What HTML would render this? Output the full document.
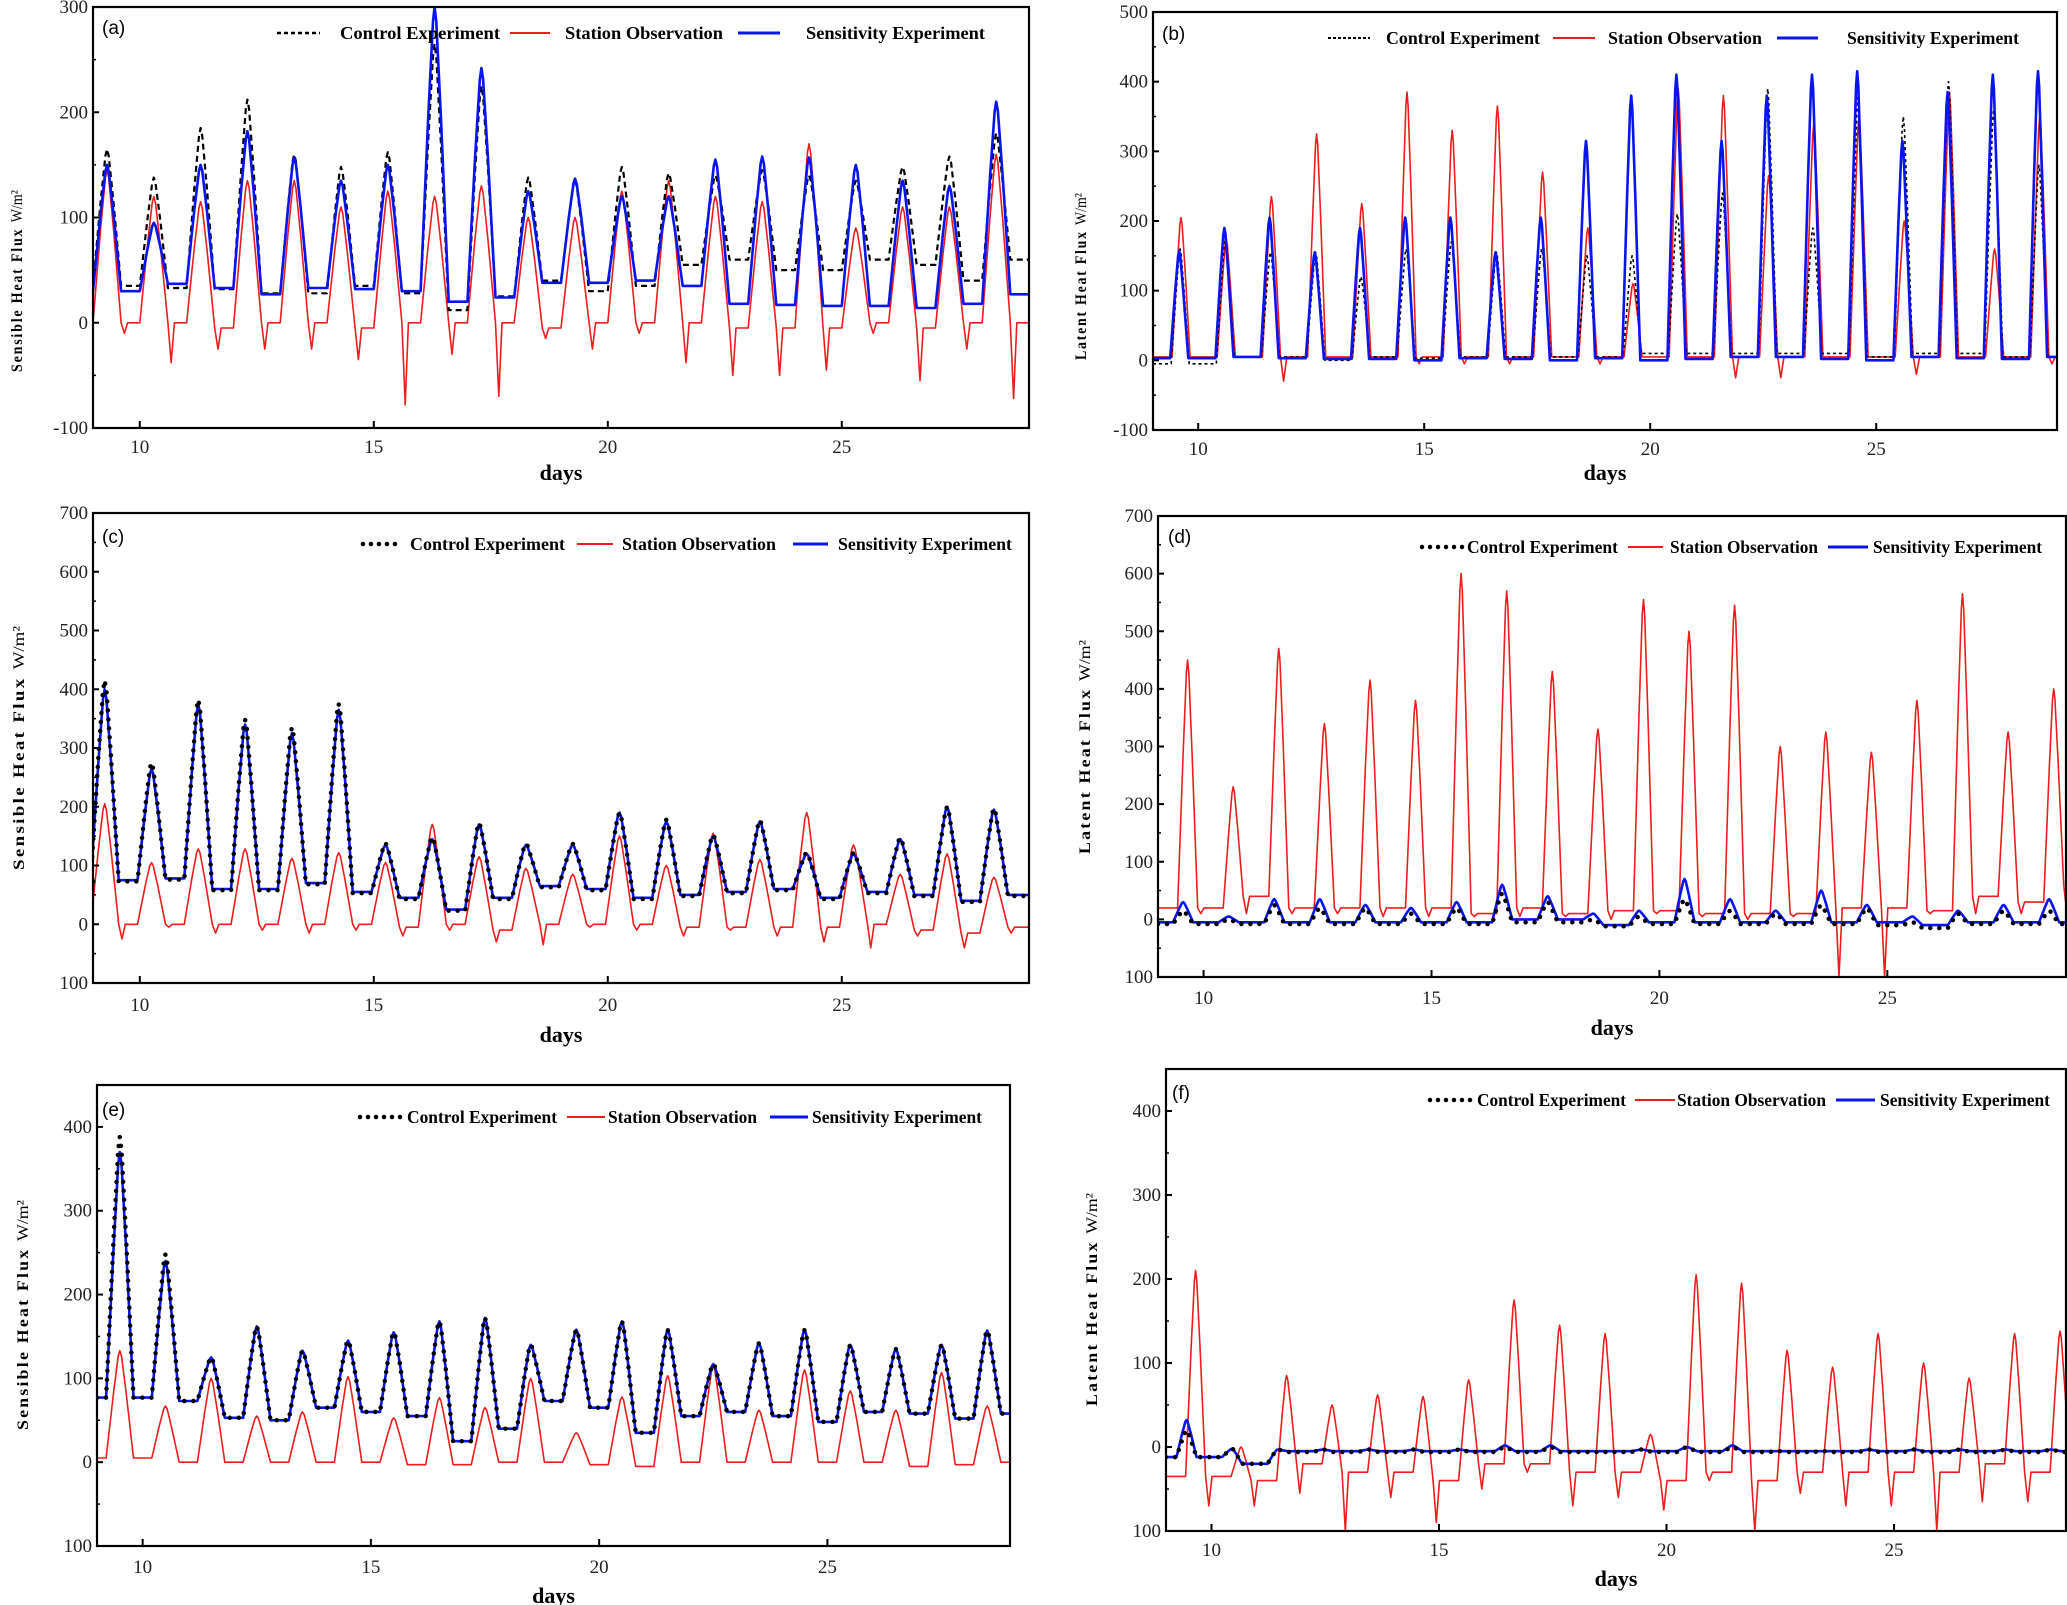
<!DOCTYPE html>
<html><head><meta charset="utf-8"><title>Heat flux comparison</title>
<style>
html,body{margin:0;padding:0;background:#fff;}
svg{display:block;}
text{font-family:"Liberation Serif",serif;}
</style></head>
<body>
<svg id="fig" xmlns="http://www.w3.org/2000/svg" width="2067" height="1605" viewBox="0 0 2067 1605"></svg>
<script>
// ---------- data (20 days, day 9..28) ----------
const days = [9,10,11,12,13,14,15,16,17,18,19,20,21,22,23,24,25,26,27,28];
const xTicks = [10,15,20,25];
const xTickLabels = ['10','15','20','25'];

// panel (a) sensible heat flux
const aCtrlPeak = [165,138,185,212,160,148,162,265,225,138,135,148,142,140,145,140,135,148,158,180];
const aCtrlBase = [35,33,32,28,28,35,28,12,25,40,30,35,55,60,50,50,60,55,40,60];
const aSensPeak = [150,95,150,182,157,135,150,300,242,125,137,120,120,155,158,157,150,135,130,210];
const aSensBase = [30,37,33,27,33,32,30,20,24,38,38,40,35,18,17,16,16,14,18,27];
const aObsPeak = [145,120,115,135,135,110,125,120,130,100,100,125,135,120,115,170,90,110,110,160];
const aObsBase = [0,0,-5,0,0,-5,0,0,0,-5,0,0,0,-5,-5,-5,0,-5,0,0];
const aObsMin = [-10,-38,-25,-25,-25,-35,-78,-30,-70,-15,-25,-10,-38,-50,-50,-45,-10,-55,-25,-72];
// panel (b) latent heat flux
const bSensPeak = [157,190,205,155,190,205,205,155,205,315,380,410,315,380,410,415,315,385,410,415];
const bSensBase = [3,5,3,2,2,0,3,2,0,3,0,2,5,5,2,0,5,3,2,5];
const bCtrlPeak = [160,175,155,155,120,160,170,155,160,150,150,210,240,390,190,380,350,400,360,280];
const bCtrlBase = [-5,5,5,0,5,3,5,5,5,5,10,10,10,10,10,5,10,10,5,5];
const bObsPeak = [205,175,235,325,225,385,330,365,270,190,110,390,380,265,340,350,200,385,160,350];
const bObsBase = [5,5,5,5,5,5,5,5,5,5,5,5,5,5,5,5,5,5,5,5];
const bObsMin = [5,5,-30,5,5,-5,-5,-5,5,-5,5,5,-25,-25,5,5,-20,5,5,-5];
// panel (c)
const cSensPeak = [400,265,375,340,325,365,135,145,170,135,135,190,175,150,175,120,120,145,200,195];
const cCtrlPeak = [415,275,382,348,335,375,138,148,172,137,137,190,178,152,177,122,122,147,200,197];
const cSensBase = [75,78,60,60,70,55,45,25,45,65,60,45,50,55,60,45,55,50,40,50];
const cCtrlBase = [73,76,58,58,68,53,43,23,43,63,58,43,48,53,58,43,53,48,38,48];
const cObsPeak = [205,105,128,128,112,122,105,170,115,95,85,150,100,155,110,190,135,85,120,80];
const cObsBase = [0,0,0,0,0,0,-5,0,-10,0,0,0,-5,-5,-5,-5,0,-10,-15,-5];
const cObsMin = [-25,-5,-15,-10,-15,-10,-20,-10,-30,-35,-5,-10,-20,-10,-20,-30,-40,-20,-40,-15];
// panel (d)
const dObsPeak = [450,230,470,340,415,380,600,570,430,330,555,500,545,300,325,290,380,565,325,400];
const dObsBase = [20,40,20,20,20,20,10,20,10,15,15,10,10,10,20,20,15,40,30,60];
const dObsMin = [10,10,10,10,5,5,5,5,5,0,10,5,0,5,-100,-100,10,10,10,10];
const dSensPeak = [30,5,35,35,25,20,30,60,40,10,15,70,35,15,50,25,5,15,25,35];
const dSensBase = [-5,-5,-5,-5,-5,-5,-5,0,0,-10,-5,-5,-5,-5,-5,-5,-10,-5,-5,-5];
const dCtrlPeak = [15,0,25,20,20,10,20,45,30,0,5,35,15,10,25,20,-5,10,15,15];
const dCtrlBase = [-8,-8,-8,-8,-8,-8,-8,-5,-5,-12,-8,-8,-8,-8,-8,-10,-15,-8,-8,-8];
// panel (e)
const eSensPeak = [370,240,125,162,133,145,155,168,172,140,158,168,158,117,142,158,140,135,140,157];
const eCtrlPeak = [388,248,125,162,133,145,155,168,172,140,158,168,158,117,142,158,140,135,140,157];
const eSensBase = [77,73,53,50,65,60,55,25,40,73,65,35,55,60,55,48,60,58,52,58];
const eObsPeak = [133,67,100,55,60,102,53,77,65,100,35,78,103,115,62,110,85,62,107,67];
const eObsBase = [5,0,0,0,0,0,-3,-3,0,0,-3,-5,0,0,0,0,0,-5,-3,0];
// panel (f)
const fSensPeak = [32,-2,-3,-3,-3,-3,-3,2,2,-5,-3,0,2,-5,-5,-3,-3,-3,-3,-3];
const fSensBase = [-12,-20,-5,-5,-5,-5,-5,-5,-5,-5,-5,-5,-5,-5,-5,-5,-5,-5,-5,-5];
const fCtrlPeak = [20,-2,-3,-3,-3,-3,-3,0,0,-6,-3,0,0,-5,-5,-3,-3,-3,-3,-3];
const fCtrlBase = [-12,-20,-6,-6,-6,-6,-6,-6,-6,-6,-6,-6,-6,-6,-6,-6,-6,-6,-6,-6];
const fObsPeak = [210,0,85,50,62,60,80,175,145,135,15,205,195,115,95,135,100,82,135,138];
const fObsBase = [-35,-40,-20,-30,-30,-40,-20,-20,-30,-30,-40,-30,-40,-30,-30,-30,-30,-20,-30,-30];
const fObsMin = [-70,-70,-55,-100,-60,-90,-50,-30,-70,-60,-75,-40,-100,-55,-70,-70,-100,-65,-65,-95];

// ---------- rendering ----------
const NS = 'http://www.w3.org/2000/svg';
const svg = document.getElementById('fig');
function mk(tag, attrs, parent){
  const e = document.createElementNS(NS, tag);
  for (const k in attrs) e.setAttribute(k, attrs[k]);
  (parent||svg).appendChild(e);
  return e;
}
function buildPts(ph, w, peaks, bases, mins){
  const pts = [[9, bases[0]]];
  for (let i=0;i<days.length;i++){
    const d = days[i];
    const prev = i ? bases[i-1] : bases[0];
    const pk = peaks[i];
    pts.push([d+ph-w, prev]);
    pts.push([d+ph-w*0.45, prev + 0.62*(pk-prev)]);
    pts.push([d+ph-w*0.12, prev + 0.95*(pk-prev)]);
    pts.push([d+ph, pk]);
    pts.push([d+ph+w*0.12, bases[i] + 0.95*(pk-bases[i])]);
    pts.push([d+ph+w*0.45, bases[i] + 0.62*(pk-bases[i])]);
    pts.push([d+ph+w, bases[i]]);
    if (mins){
      pts.push([d+ph+w+0.07, mins[i]]);
      pts.push([d+ph+w+0.14, bases[i]]);
    }
  }
  pts.push([29.2, bases[bases.length-1]]);
  return pts;
}

const panels = [
 {id:'a', L:93,R:1029,T:7,B:428,x0:9,x1:29,y0:-100,y1:300, yt:[-100,0,100,200,300], ytl:['-100','0','100','200','300'], tlY:446, daysY:473, w:0.3,
  title:'Sensible Heat Flux', tx:22, tyA:190, tyB:372, lab:[102,28], ctrlStyle:'dash',
  leg:[[277,320,340,160],[510,550,565,158],[738,780,806,179]], legY:33,
  series:{ctrl:[0.3,aCtrlPeak,aCtrlBase,null], obs:[0.3,aObsPeak,aObsBase,aObsMin], sens:[0.3,aSensPeak,aSensBase,null]}},
 {id:'b', L:1153,R:2057,T:12,B:430,x0:9,x1:29,y0:-100,y1:500, yt:[-100,0,100,200,300,400,500], ytl:['-100','0','100','200','300','400','500'], tlY:448, daysY:473, w:0.2,
  title:'Latent Heat Flux', tx:1086, tyA:193, tyB:360, lab:[1162,34], ctrlStyle:'fdash',
  leg:[[1328,1370,1386,154],[1553,1595,1608,154],[1777,1818,1847,172]], legY:38,
  series:{ctrl:[0.6,bCtrlPeak,bCtrlBase,null], obs:[0.62,bObsPeak,bObsBase,bObsMin], sens:[0.58,bSensPeak,bSensBase,null]}},
 {id:'c', L:93,R:1029,T:513,B:983,x0:9,x1:29,y0:-100,y1:700, yt:[-100,0,100,200,300,400,500,600,700], ytl:['100','0','100','200','300','400','500','600','700'], tlY:1004, daysY:1035, w:0.3,
  title:'Sensible Heat Flux', tx:24, tyA:626, tyB:870, lab:[102,537], ctrlStyle:'dot',
  leg:[[363,400,410,155],[577,613,622,154],[793,828,838,174]], legY:544,
  series:{ctrl:[0.25,cCtrlPeak,cCtrlBase,null], obs:[0.25,cObsPeak,cObsBase,cObsMin], sens:[0.25,cSensPeak,cSensBase,null]}},
 {id:'d', L:1158,R:2066,T:516,B:977,x0:9,x1:28.92,y0:-100,y1:700, yt:[-100,0,100,200,300,400,500,600,700], ytl:['100','0','100','200','300','400','500','600','700'], tlY:997, daysY:1028, w:0.22,
  title:'Latent Heat Flux', tx:1090, tyA:640, tyB:854, lab:[1168,537], ctrlStyle:'dot',
  leg:[[1422,1465,1467,151],[1628,1663,1670,148],[1828,1868,1873,169]], legY:547,
  series:{ctrl:[0.55,dCtrlPeak,dCtrlBase,null], obs:[0.65,dObsPeak,dObsBase,dObsMin], sens:[0.55,dSensPeak,dSensBase,null]}},
 {id:'e', L:97,R:1010,T:1085,B:1546,x0:9,x1:29,y0:-100,y1:450, yt:[-100,0,100,200,300,400], ytl:['100','0','100','200','300','400'], tlY:1566, daysY:1596, w:0.3,
  title:'Sensible Heat Flux', tx:28, tyA:1200, tyB:1430, lab:[102,1110], ctrlStyle:'dot',
  leg:[[360,405,407,150],[567,605,608,149],[770,808,812,170]], legY:1117,
  series:{ctrl:[0.5,eCtrlPeak,eSensBase,null], obs:[0.5,eObsPeak,eObsBase,null], sens:[0.5,eSensPeak,eSensBase,null]}},
 {id:'f', L:1166,R:2066,T:1069,B:1531,x0:9,x1:28.78,y0:-100,y1:450, yt:[-100,0,100,200,300,400], ytl:['100','0','100','200','300','400'], tlY:1549, daysY:1579, w:0.22,
  title:'Latent Heat Flux', tx:1097, tyA:1193, tyB:1406, lab:[1172,1093], ctrlStyle:'dot',
  leg:[[1430,1475,1477,149],[1635,1675,1677,149],[1836,1875,1880,170]], legY:1100,
  series:{ctrl:[0.45,fCtrlPeak,fCtrlBase,null], obs:[0.65,fObsPeak,fObsBase,fObsMin], sens:[0.45,fSensPeak,fSensBase,null]}}
];

const colors = {ctrl:'#000', obs:'#ee1c1c', sens:'#0a14ee'};
const legNames = ['Control Experiment','Station Observation','Sensitivity Experiment'];

panels.forEach(p => {
  const g = mk('g', {});
  
  
  const xs = v => p.L + (v - p.x0) * (p.R - p.L) / (p.x1 - p.x0);
  const ys = v => p.B - (v - p.y0) * (p.B - p.T) / (p.y1 - p.y0);

  const clipId = 'clip-' + p.id;
  const cp = mk('clipPath', {id: clipId}, g);
  mk('rect', {x:p.L, y:p.T, width:p.R-p.L, height:p.B-p.T}, cp);

  const order = (p.ctrlStyle === 'dot') ? ['obs','sens','ctrl'] : ['obs','ctrl','sens'];
  order.forEach(key => {
    const s = p.series[key];
    const pts = buildPts(s[0], p.w, s[1], s[2], s[3]);
    const d = pts.map((q,i) => (i?'L':'M') + xs(q[0]).toFixed(1) + ' ' + ys(q[1]).toFixed(1)).join(' ');
    const attrs = {d:d, fill:'none', stroke:colors[key], 'clip-path':'url(#'+clipId+')', 'stroke-linejoin':'round'};
    if (key === 'obs') attrs['stroke-width'] = 1.6;
    if (key === 'sens') attrs['stroke-width'] = 2.6;
    if (key === 'ctrl'){
      if (p.ctrlStyle === 'dash'){ attrs['stroke-width']=2.2; attrs['stroke-dasharray']='6 4'; }
      else if (p.ctrlStyle === 'fdash'){ attrs['stroke-width']=1.6; attrs['stroke-dasharray']='3 3'; }
      else { attrs['stroke-width']=4.5; attrs['stroke-dasharray']='0 9'; attrs['stroke-linecap']='round'; }
    }
    const path = mk('path', attrs, g);
    
    
  });

  const frame = mk('rect', {x:p.L, y:p.T, width:p.R-p.L, height:p.B-p.T, fill:'none', stroke:'#000', 'stroke-width':2.2}, g);
  
  

  p.yt.forEach((v,i) => {
    const y = ys(v);
    mk('line', {x1:p.L, x2:p.L+6, y1:y, y2:y, stroke:'#000', 'stroke-width':2}, g);
    if (i < p.yt.length-1){
      const ym = ys(v + (p.yt[1]-p.yt[0])/2);
      mk('line', {x1:p.L, x2:p.L+3, y1:ym, y2:ym, stroke:'#000', 'stroke-width':1.5}, g);
    }
    const t = mk('text', {x:p.L-5, y:y+6, 'text-anchor':'end', 'font-size':19, fill:'#222'}, g);
    t.textContent = p.ytl[i];
    
    
  });
  xTicks.forEach((v,i) => {
    const x = xs(v);
    mk('line', {x1:x, x2:x, y1:p.B, y2:p.B-7, stroke:'#000', 'stroke-width':2}, g);
    const t = mk('text', {x:x, y:p.tlY+7, 'text-anchor':'middle', 'font-size':19, fill:'#222'}, g);
    t.textContent = xTickLabels[i];
    
    
  });
  const xt = mk('text', {x:(p.L+p.R)/2, y:p.daysY+7, 'text-anchor':'middle', 'font-size':22, 'font-weight':'bold'}, g);
  xt.textContent = 'days';
  
  
  const cy = (p.tyA + p.tyB)/2;
  const yt = mk('text', {x:0, y:0, transform:'translate('+p.tx+','+cy+') rotate(-90)', 'text-anchor':'middle', 'font-size':16, textLength:(p.tyB-p.tyA), lengthAdjust:'spacingAndGlyphs'}, g);
  
  
  const t1 = mk('tspan', {'font-weight':'bold', 'letter-spacing':'2'}, yt); t1.textContent = p.title + '  ';
  const t2 = mk('tspan', {}, yt); t2.textContent = 'W/m²';
  const lb = mk('text', {x:p.lab[0], y:p.lab[1]+6, 'font-size':19, style:'font-family:"Liberation Sans",sans-serif'}, g);
  lb.textContent = '(' + p.id + ')';
  
  
  const lg = mk('g', {}, g);
  
  
  ['ctrl','obs','sens'].forEach((key,i) => {
    const e = p.leg[i];
    const la = {x1:e[0], x2:e[1], y1:p.legY, y2:p.legY, stroke:colors[key]};
    if (key==='obs') la['stroke-width']=2;
    if (key==='sens') la['stroke-width']=3;
    if (key==='ctrl'){
      if (p.ctrlStyle==='dash'){ la['stroke-width']=2.5; la['stroke-dasharray']='4 3'; }
      else if (p.ctrlStyle==='fdash'){ la['stroke-width']=2; la['stroke-dasharray']='3 2'; }
      else { la['stroke-width']=4.5; la['stroke-dasharray']='0 8'; la['stroke-linecap']='round'; }
    }
    mk('line', la, lg);
    const t = mk('text', {x:e[2], y:p.legY+6, 'font-size':18, 'font-weight':'bold', textLength:e[3], lengthAdjust:'spacingAndGlyphs'}, lg);
    t.textContent = legNames[i];
    
    
  });
});
</script>
</body></html>
